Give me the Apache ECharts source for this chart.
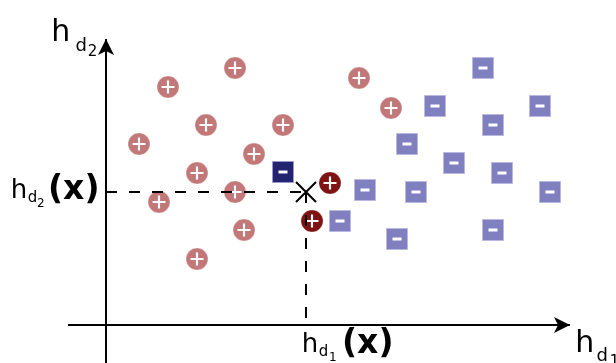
<!DOCTYPE html>
<html>
<head>
<meta charset="utf-8">
<script src="https://cdn.jsdelivr.net/npm/echarts@6/dist/echarts.min.js"></script>
<style>
  html, body { margin: 0; padding: 0; background: #fff; }
  #chart { width: 616px; height: 363px; }
</style>
</head>
<body>
<div id="chart"></div>
<script>
// feature space, one unit = 10px, origin where the two axes cross
const posX = [12.9, 6.2, 25.3, 28.5, 10.0, 17.7, 3.3, 14.8, 9.1, 12.9, 5.3, 13.8, 9.1]
const posY = [25.7, 23.8, 24.7, 21.7, 20.0, 20.0, 18.1, 17.1, 15.2, 13.3, 12.3, 9.5, 6.6]
const nearPosX = [22.4, 20.6]
const nearPosY = [14.2, 10.4]
const negX = [37.7, 32.9, 43.4, 38.7, 30.1, 34.8, 39.6, 31.0, 44.4, 38.7, 29.1, 25.9, 23.4]
const negY = [25.7, 21.9, 21.9, 20.0, 18.1, 16.2, 15.2, 13.3, 13.3, 9.5, 8.6, 13.5, 10.4]
const nearNegX = [17.7]
const nearNegY = [15.3]
const query = [20.0, 13.3]

const xAxisFrom = -3.8, xAxisTo = 46.4
const yAxisFrom = -3.8, yAxisTo = 28.6

const pts = (xs, ys) => xs.map((x, i) => [x, ys[i]])
const pos = pts(posX, posY)
const nearPos = pts(nearPosX, nearPosY)
const neg = pts(negX, negY)
const nearNeg = pts(nearNegX, nearNegY)

const FONT = 'DejaVu Sans'
// text piece placed by glyph left edge and baseline
function piece(text, left, baseline, size, bold) {
  return {
    type: 'text',
    silent: true,
    style: {
      text: text,
      x: left - (bold ? 0.03 : 0.09) * size,
      y: baseline - 0.21 * size,
      fontSize: size,
      fontFamily: FONT,
      fontWeight: bold ? 'bold' : 'normal',
      fill: '#000',
      align: 'left',
      verticalAlign: 'middle'
    }
  }
}

const chart = echarts.init(document.getElementById('chart'), null, { renderer: 'canvas' })

chart.setOption({
  animation: false,
  grid: { left: 0, right: 0, top: 0, bottom: 0 },
  xAxis: { type: 'value', min: -10.6, max: 51.0, show: false },
  yAxis: { type: 'value', min: -3.8, max: 32.5, show: false },
  series: [
    {
      type: 'scatter',
      data: pos,
      symbol: 'circle',
      symbolSize: 22,
      itemStyle: { color: '#c27878', opacity: 1, borderColor: 'rgba(255,255,255,0.3)', borderWidth: 1 },
      z: 2
    },
    {
      type: 'scatter',
      data: nearPos,
      symbol: 'circle',
      symbolSize: 22,
      itemStyle: { color: '#7f1212', opacity: 1, borderColor: 'rgba(255,255,255,0.2)', borderWidth: 1 },
      z: 2
    },
    {
      type: 'scatter',
      data: neg,
      symbol: 'rect',
      symbolSize: 21,
      itemStyle: { color: '#8080c0', opacity: 1, borderColor: '#b8b8e0', borderWidth: 1 },
      z: 2
    },
    {
      type: 'scatter',
      data: nearNeg,
      symbol: 'rect',
      symbolSize: 21,
      itemStyle: { color: '#23236f', opacity: 1, borderColor: '#9a9ad0', borderWidth: 1 },
      z: 2
    },
    {
      // plus signs
      type: 'scatter',
      data: pos.concat(nearPos),
      symbol: 'path://M5,0H7V5H12V7H7V12H5V7H0V5H5Z',
      symbolSize: 13,
      itemStyle: { color: '#fff', opacity: 1 },
      silent: true,
      z: 3
    },
    {
      // minus signs
      type: 'scatter',
      data: neg.concat(nearNeg),
      symbol: 'rect',
      symbolSize: [9, 3],
      itemStyle: { color: '#fff', opacity: 1 },
      silent: true,
      z: 3
    },
    {
      // query point x
      type: 'scatter',
      data: [query],
      symbol: 'path://M0,0L10,10M10,0L0,10',
      symbolSize: 20,
      itemStyle: { color: 'none', opacity: 1, borderColor: '#000', borderWidth: 2 },
      silent: true,
      z: 6
    },
    {
      // dashed guides
      type: 'scatter',
      data: [],
      z: 5,
      markLine: {
        silent: true,
        symbol: 'none',
        label: { show: false },
        lineStyle: { color: '#000', width: 2, opacity: 1, type: [11, 12] },
        data: [
          [{ coord: [0, query[1]] }, { coord: [query[0], query[1]] }],
          [{ coord: [query[0], query[1]] }, { coord: [query[0], 0] }]
        ]
      }
    },
    {
      // axes with arrows
      type: 'scatter',
      data: [],
      z: 5,
      markLine: {
        silent: true,
        symbol: ['none', 'arrow'],
        symbolSize: [12, 16],
        label: { show: false },
        lineStyle: { color: '#000', width: 2, opacity: 1, type: 'solid' },
        data: [
          [{ coord: [xAxisFrom, 0] }, { coord: [xAxisTo, 0] }],
          [{ coord: [0, yAxisFrom] }, { coord: [0, yAxisTo] }]
        ]
      }
    }
  ],
  graphic: [
    // y axis name
    piece('h', 54, 40, 30), piece('d', 77, 50, 18), piece('2', 89, 55, 15),
    // x axis name
    piece('h', 578, 351, 30), piece('d', 598, 360, 18), piece('1', 611, 365, 15),
    // h_d2(x)
    piece('h', 13, 197, 26), piece('d', 29, 201, 15), piece('2', 38, 206, 12),
    piece('(x)', 49, 197, 33, true),
    // h_d1(x)
    piece('h', 304, 351, 26), piece('d', 320, 355, 15), piece('1', 330, 360, 12),
    piece('(x)', 343, 351, 33, true)
  ]
})
</script>
</body>
</html>
